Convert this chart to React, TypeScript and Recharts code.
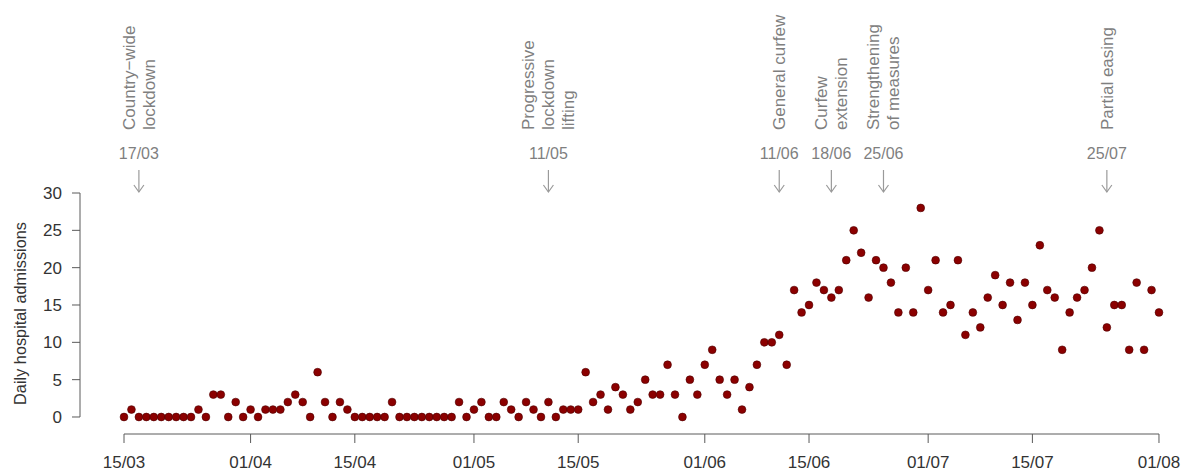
// Daily hospital admissions, 15/03 to 01/08, with the policy events marked
// above the plot. Styled after base-R graphics: detached axes, grey text.

import { ReferenceDot, ReferenceLine, Scatter, ScatterChart, XAxis, YAxis } from "recharts";

// one value per day, starting 15/03
const ADMISSIONS = [
  0, 1, 0, 0, 0, 0, 0, 0, 0, 0, 1, 0, 3, 3, 0, 2, 0, 1, 0, 1,
  1, 1, 2, 3, 2, 0, 6, 2, 0, 2, 1, 0, 0, 0, 0, 0, 2, 0, 0, 0,
  0, 0, 0, 0, 0, 2, 0, 1, 2, 0, 0, 2, 1, 0, 2, 1, 0, 2, 0, 1,
  1, 1, 6, 2, 3, 1, 4, 3, 1, 2, 5, 3, 3, 7, 3, 0, 5, 3, 7, 9,
  5, 3, 5, 1, 4, 7, 10, 10, 11, 7, 17, 14, 15, 18, 17, 16, 17, 21, 25, 22,
  16, 21, 20, 18, 14, 20, 14, 28, 17, 21, 14, 15, 21, 11, 14, 12, 16, 19, 15, 18,
  13, 18, 15, 23, 17, 16, 9, 14, 16, 17, 20, 25, 12, 15, 15, 9, 18, 9, 17, 14,
];

const TICK_DAYS = [0, 17, 31, 47, 61, 78, 92, 108, 122, 139];
const TICK_LABELS = ["15/03", "01/04", "15/04", "01/05", "15/05", "01/06", "15/06", "01/07", "15/07", "01/08"];
const Y_TICKS = [0, 5, 10, 15, 20, 25, 30];

const EVENT_DAYS = [2, 57, 88, 95, 102, 132];
const EVENT_DATES = ["17/03", "11/05", "11/06", "18/06", "25/06", "25/07"];
const EVENT_LABELS = [
  ["Country−wide", "lockdown"],
  ["Progressive", "lockdown", "lifting"],
  ["General curfew"],
  ["Curfew", "extension"],
  ["Strengthening", "of measures"],
  ["Partial easing"],
];

const data = ADMISSIONS.map((value, day) => ({ day, value }));

// domains padded so the plot box lines up with the detached axes
const X_DOMAIN: [number, number] = [-5.91, 142.36];
const Y_DOMAIN: [number, number] = [-2.277, 30];

const AXIS = "#5a5a5a";
const GREY_TEXT = "#7f7f7f";

function Dot(props: any) {
  return <circle cx={props.cx} cy={props.cy} r={3.9} fill="#8b0000" stroke="#4d0000" strokeWidth={0.6} />;
}

function EventMarker({ cx, cy, date, lines }: { cx: number; cy: number; date: string; lines: string[] }) {
  const n = lines.length;
  return (
    <g>
      <line x1={cx} y1={cy - 23} x2={cx} y2={cy - 1} stroke="#9a9a9a" strokeWidth={1.2} />
      <polyline
        points={`${cx - 5},${cy - 8} ${cx},${cy - 1} ${cx + 5},${cy - 8}`}
        fill="none"
        stroke="#9a9a9a"
        strokeWidth={1.2}
      />
      <text x={cx} y={cy - 34} textAnchor="middle" fontSize={16} fill={GREY_TEXT}>
        {date}
      </text>
      {lines.map((t, i) => {
        const x = cx + (i - (n - 1) / 2) * 20;
        const y = cy - 63;
        return (
          <text key={t} x={x} y={y} dy="0.35em" transform={`rotate(-90 ${x} ${y})`} fontSize={17} fill={GREY_TEXT}>
            {t}
          </text>
        );
      })}
    </g>
  );
}

export default function App() {
  return (
    <div style={{ position: "absolute", left: 0, top: 0, width: 1184, height: 472, background: "#fff", fontFamily: "'Liberation Sans', Arial, sans-serif" }}>
      <ScatterChart width={1184} height={472} margin={{ top: 193, right: 0, bottom: 0, left: 0 }}>
        <XAxis
          type="number"
          dataKey="day"
          domain={X_DOMAIN}
          allowDataOverflow
          ticks={TICK_DAYS}
          interval={0}
          tickFormatter={(d: number) => TICK_LABELS[TICK_DAYS.indexOf(d)] ?? ""}
          axisLine={false}
          tickLine={{ stroke: AXIS }}
          tickSize={9}
          tickMargin={13}
          height={38}
          tick={{ fill: "#333", fontSize: 17 }}
        />
        <YAxis
          type="number"
          dataKey="value"
          domain={Y_DOMAIN}
          allowDataOverflow
          ticks={Y_TICKS}
          interval={0}
          axisLine={false}
          tickLine={{ stroke: AXIS }}
          tickSize={8}
          tickMargin={10}
          width={80}
          tick={{ fill: "#333", fontSize: 17 }}
          label={{
            value: "Daily hospital admissions",
            angle: -90,
            position: "insideLeft",
            offset: 20,
            style: { textAnchor: "middle", fill: "#333", fontSize: 16.3 },
          }}
        />
        <ReferenceLine
          segment={[{ x: 0, y: Y_DOMAIN[0] }, { x: 139, y: Y_DOMAIN[0] }]}
          stroke={AXIS}
          ifOverflow="visible"
        />
        <ReferenceLine
          segment={[{ x: X_DOMAIN[0], y: 0 }, { x: X_DOMAIN[0], y: 30 }]}
          stroke={AXIS}
          ifOverflow="visible"
        />
        <Scatter data={data} shape={Dot} isAnimationActive={false} />
        {EVENT_DAYS.map((d, i) => (
          <ReferenceDot
            key={d}
            x={d}
            y={30}
            r={0}
            ifOverflow="visible"
            shape={(p: any) => <EventMarker cx={p.cx} cy={p.cy} date={EVENT_DATES[i]} lines={EVENT_LABELS[i]} />}
          />
        ))}
      </ScatterChart>
    </div>
  );
}
